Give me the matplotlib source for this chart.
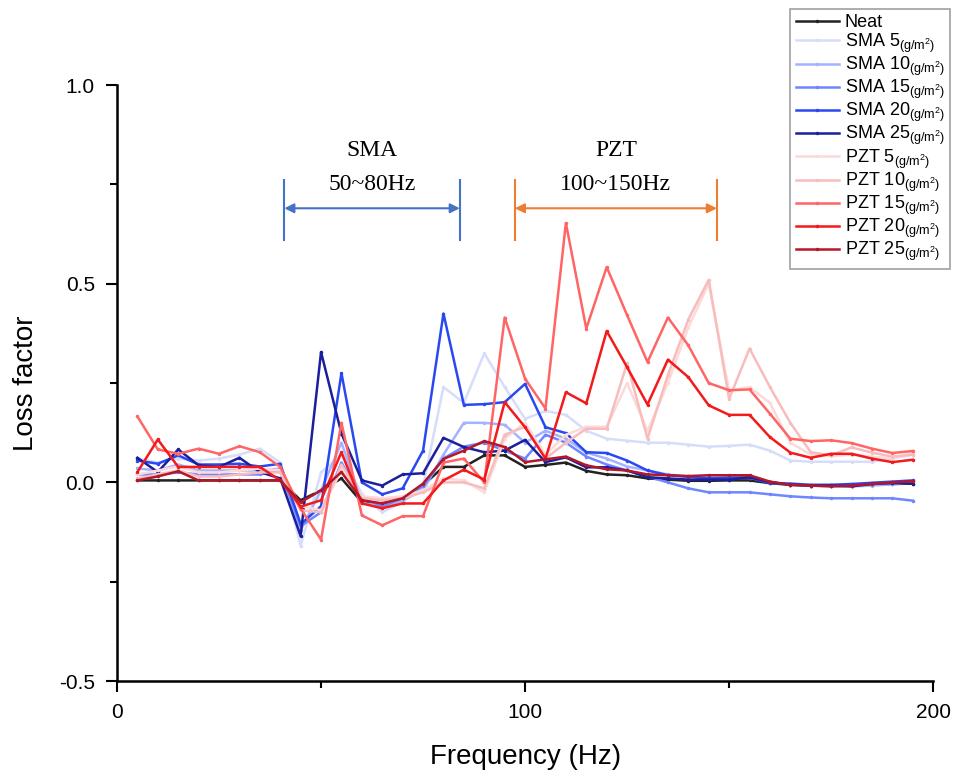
import matplotlib.pyplot as plt
import numpy as np

plt.rcParams['font.family'] = ['Liberation Sans', 'DejaVu Sans']
plt.rcParams['mathtext.fontset'] = 'custom'
plt.rcParams['mathtext.rm'] = 'Liberation Sans'
plt.rcParams['mathtext.it'] = 'Liberation Sans:italic'

freq = np.arange(5, 200, 5)

neat = [0.005, 0.005, 0.005, 0.005, 0.005, 0.005, 0.005, 0.005,
        -0.045, -0.02, 0.01, -0.05, -0.053, -0.04, -0.007, 0.039, 0.039, 0.068, 0.068, 0.039,
        0.044, 0.05, 0.029, 0.02, 0.018, 0.01, 0.007, 0.004, 0.004, 0.005, 0.005,
        -0.002, -0.006, -0.008, -0.008, -0.008, -0.006, -0.004, -0.003]

sma5 = [0.06, 0.05, 0.06, 0.055, 0.06, 0.07, 0.085, 0.05,
        -0.16, 0.025, 0.07, -0.03, -0.075, -0.05, -0.01, 0.24, 0.2, 0.325, 0.24, 0.16,
        0.18, 0.17, 0.13, 0.11, 0.105, 0.1, 0.1, 0.095, 0.09, 0.092, 0.095,
        0.08, 0.055, 0.052, 0.052, 0.052, 0.052, 0.06, 0.07]

sma10 = [0.035, 0.03, 0.045, 0.03, 0.03, 0.03, 0.03, 0.035,
         -0.12, -0.02, 0.1, -0.05, -0.065, -0.045, -0.02, 0.07, 0.15, 0.15, 0.145, 0.1,
         0.13, 0.11, 0.075, 0.06, 0.04, 0.03, 0.02, 0.015, 0.012, 0.012, 0.012,
         0.0, -0.005, -0.008, -0.01, -0.01, -0.008, -0.005, 0.0]

sma15 = [0.02, 0.02, 0.025, 0.02, 0.02, 0.02, 0.02, 0.03,
         -0.11, -0.075, 0.05, -0.04, -0.06, -0.04, -0.01, 0.06, 0.09, 0.1, 0.08, 0.06,
         0.12, 0.1, 0.065, 0.045, 0.03, 0.015, 0.0, -0.015, -0.025, -0.025, -0.025,
         -0.03, -0.035, -0.038, -0.04, -0.04, -0.04, -0.04, -0.046]

sma20 = [0.055, 0.047, 0.068, 0.045, 0.045, 0.047, 0.04, 0.047,
         -0.105, -0.06, 0.275, 0.0, -0.03, -0.015, 0.08, 0.425, 0.195, 0.197, 0.202, 0.248,
         0.139, 0.124, 0.076, 0.074, 0.055, 0.03, 0.018, 0.014, 0.01, 0.012, 0.012,
         -0.002, -0.003, -0.006, -0.006, -0.004, -0.001, 0.002, 0.005]

sma25 = [0.062, 0.026, 0.083, 0.043, 0.039, 0.062, 0.026, 0.01,
         -0.135, 0.328, 0.123, 0.005, -0.008, 0.02, 0.023, 0.112, 0.089, 0.076, 0.08, 0.107,
         0.051, 0.063, 0.038, 0.038, 0.03, 0.013, 0.01, 0.007, 0.007, 0.007, 0.013,
         0.001, -0.006, -0.008, -0.008, -0.01, -0.004, -0.002, -0.003]

pzt5 = [0.02, 0.03, 0.04, 0.025, 0.025, 0.03, 0.035, 0.03,
        -0.06, -0.07, 0.03, -0.035, -0.04, -0.035, -0.02, 0.01, 0.005, -0.025, 0.11, 0.15,
        0.07, 0.12, 0.14, 0.14, 0.25, 0.13, 0.25, 0.39, 0.5, 0.23, 0.24,
        0.2, 0.1, 0.07, 0.066, 0.07, 0.065, 0.06, 0.075]

pzt10 = [0.01, 0.02, 0.03, 0.015, 0.015, 0.02, 0.025, 0.025,
         -0.07, -0.075, 0.045, -0.04, -0.045, -0.04, -0.025, 0.0, 0.0, -0.015, 0.12, 0.14,
         0.06, 0.1, 0.135, 0.135, 0.3, 0.11, 0.27, 0.41, 0.51, 0.21, 0.337,
         0.24, 0.15, 0.076, 0.068, 0.088, 0.075, 0.065, 0.07]

pzt15 = [0.166, 0.083, 0.072, 0.085, 0.072, 0.091, 0.076, 0.039,
         -0.066, -0.144, 0.15, -0.083, -0.108, -0.085, -0.085, 0.05, 0.06, 0.0, 0.415, 0.261,
         0.186, 0.653, 0.387, 0.542, 0.421, 0.303, 0.415, 0.345, 0.25, 0.232, 0.234,
         0.173, 0.11, 0.104, 0.106, 0.099, 0.085, 0.074, 0.079]

pzt20 = [0.026, 0.108, 0.039, 0.039, 0.039, 0.039, 0.039, 0.005,
         -0.061, -0.045, 0.076, -0.053, -0.065, -0.053, -0.053, 0.005, 0.032, 0.007, 0.202, 0.139,
         0.06, 0.227, 0.199, 0.381, 0.29, 0.196, 0.309, 0.265, 0.194, 0.17, 0.17,
         0.114, 0.075, 0.062, 0.072, 0.072, 0.06, 0.051, 0.057]

pzt25 = [0.005, 0.015, 0.028, 0.005, 0.005, 0.005, 0.005, 0.005,
         -0.05, -0.02, 0.026, -0.045, -0.053, -0.04, -0.003, 0.059, 0.08, 0.104, 0.089, 0.051,
         0.058, 0.065, 0.043, 0.033, 0.03, 0.02, 0.018, 0.016, 0.018, 0.018, 0.018,
         0.002, -0.006, -0.008, -0.01, -0.008, -0.004, 0.0, 0.003]

unit = r'$\mathregular{_{(g/m^2)}}$'
labels = ['Neat',
          'SMA 5' + unit, 'SMA 10' + unit, 'SMA 15' + unit, 'SMA 20' + unit, 'SMA 25' + unit,
          'PZT 5' + unit, 'PZT 10' + unit, 'PZT 15' + unit, 'PZT 20' + unit, 'PZT 25' + unit]
series = [neat, sma5, sma10, sma15, sma20, sma25, pzt5, pzt10, pzt15, pzt20, pzt25]
colors = ['#222222',
          '#d6ddfb', '#a3b3ff', '#6f86ff', '#2a48f2', '#1c1f9c',
          '#fcdada', '#f9bcbc', '#ff6565', '#f21a1a', '#b2182a']

fig = plt.figure(figsize=(9.67, 7.81), dpi=100)
ax = fig.add_axes([0.121, 0.128, 0.844, 0.763])

for y, c, lab in zip(series, colors, labels):
    ax.plot(freq, y, color=c, lw=1.8, marker='.', ms=3, label=lab)

ax.set_xlim(0, 200)
ax.set_ylim(-0.5, 1.0)
ax.set_xticks([0, 100, 200])
ax.set_xticks([50, 150], minor=True)
ax.set_yticks([-0.5, 0.0, 0.5, 1.0])
ax.set_yticks([-0.25, 0.25, 0.75], minor=True)
ax.set_yticklabels(['-0.5', '0.0', '0.5', '1.0'])
ax.spines['top'].set_visible(False)
ax.spines['right'].set_visible(False)
for s in ['left', 'bottom']:
    ax.spines[s].set_linewidth(1.8)
ax.tick_params(which='major', direction='out', length=8, width=1.5, labelsize=15, pad=8)
ax.tick_params(which='minor', direction='out', length=5, width=1.5)
ax.set_xlabel('Frequency (Hz)', fontsize=20, labelpad=16)
ax.set_ylabel('Loss factor', fontsize=20, labelpad=14)

# range markers
sma_c = '#4472c4'
pzt_c = '#ed7d31'
for x0, x1, c, t1, t2 in [(41, 84, sma_c, 'SMA', '50~80Hz'),
                          (97.5, 147, pzt_c, 'PZT', '100~150Hz')]:
    ax.plot([x0, x0], [0.61, 0.76], color=c, lw=1.5)
    ax.plot([x1, x1], [0.61, 0.76], color=c, lw=1.5)
    ax.annotate('', xy=(x0, 0.69), xytext=(x1, 0.69),
                arrowprops=dict(arrowstyle='<|-|>', color=c, lw=1.5, mutation_scale=14,
                                shrinkA=0, shrinkB=0))
    xm = (x0 + x1) / 2
    ax.text(xm, 0.835, t1, ha='center', va='center', fontsize=17, family='Liberation Serif')
    ax.text(xm, 0.75, t2, ha='center', va='center', fontsize=17, family='Liberation Serif')

leg = fig.legend(loc='upper left', bbox_to_anchor=(0.808, 1.0), fontsize=13,
                 frameon=True, fancybox=False, edgecolor='#888888', borderpad=0.3,
                 labelspacing=0.0, handlelength=2.4, handletextpad=0.3)
leg.get_frame().set_linewidth(1.2)

fig.savefig('out.png', dpi=100)
